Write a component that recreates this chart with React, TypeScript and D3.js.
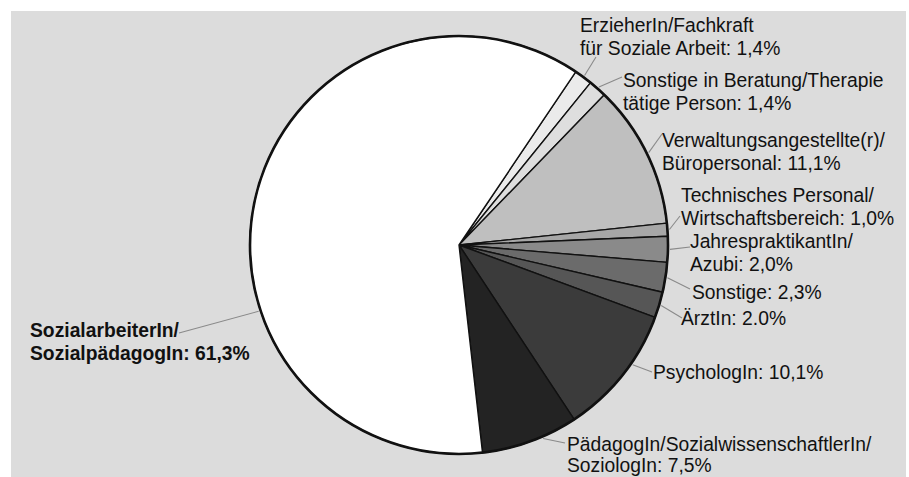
import * as d3 from 'd3'

// Anteile der Berufsgruppen (%), im Uhrzeigersinn ab ca. 34°
const categories = [
  'ErzieherIn/Fachkraft',
  'Sonstige Beratung/Therapie',
  'Verwaltung',
  'Technisches Personal',
  'JahrespraktikantIn',
  'Sonstige',
  'ÄrztIn',
  'PsychologIn',
  'PädagogIn',
  'SozialarbeiterIn',
]
const values = [1.4, 1.4, 11.1, 1.0, 2.0, 2.3, 2.0, 10.1, 7.5, 61.3]
const labelLines = [
  ['ErzieherIn/Fachkraft', 'für Soziale Arbeit: 1,4%'],
  ['Sonstige in Beratung/Therapie', 'tätige Person: 1,4%'],
  ['Verwaltungsangestellte(r)/', 'Büropersonal: 11,1%'],
  ['Technisches Personal/', 'Wirtschaftsbereich: 1,0%'],
  ['JahrespraktikantIn/', 'Azubi: 2,0%'],
  ['Sonstige: 2,3%'],
  ['ÄrztIn: 2.0%'],
  ['PsychologIn: 10,1%'],
  ['PädagogIn/SozialwissenschaftlerIn/', 'SoziologIn: 7,5%'],
  ['SozialarbeiterIn/', 'SozialpädagogIn: 61,3%'],
]
const colors = ['#ebebeb', '#dedede', '#bfbfbf', '#a7a7a7', '#8a8a8a', '#6b6b6b', '#565656', '#3b3b3b', '#232323', '#ffffff']

// label placement: text x, first baseline, leader end point (angle = where the leader leaves the rim)
const labelLayout = [
  { x: 580, y: 32, lx: 596, ly: 57 },
  { x: 623, y: 87, lx: 622, ly: 77 },
  { x: 662, y: 147, lx: 662, ly: 134 },
  { x: 681, y: 202, lx: 680, ly: 216 },
  { x: 690, y: 248, lx: 690, ly: 247 },
  { x: 692, y: 299, lx: 690, ly: 289 },
  { x: 681, y: 325, lx: 682, ly: 318 },
  { x: 653, y: 379, lx: 652, ly: 372, angle: 124.6 },
  { x: 567, y: 451, lx: 565, ly: 443, lh: 21, angle: 156.5 },
  { x: 30, y: 337, lx: 179, ly: 333, bold: true, angle: 251.7 },
]

const W = 909
const H = 477
const cx = 459
const cy = 245
const r = 209
const start = (34 * Math.PI) / 180

export default function App() {
  const pie = d3
    .pie<number>()
    .sort(null)
    .value((d) => d)
    .startAngle(start)
    .endAngle(start + 2 * Math.PI)
  const arcs = pie(values)
  const arc = d3.arc<d3.PieArcDatum<number>>().innerRadius(0).outerRadius(r)
  const edge = r + 2

  return (
    <svg width={W} height={H} style={{ position: 'absolute', left: 0, top: 0 }}>
      <rect x={11} y={11} width={895} height={H - 11} fill="#dcdcdc" />
      <g transform={`translate(${cx},${cy})`}>
        {arcs.map((a, i) => (
          <path key={categories[i]} d={arc(a) ?? ''} fill={colors[i]} stroke="#111" strokeWidth={1.4} strokeLinejoin="round" />
        ))}
        <circle r={r} fill="none" stroke="#111" strokeWidth={2.6} />
      </g>
      <g stroke="#8a8a8a" strokeWidth={1.1}>
        {arcs.map((a, i) => {
          const lay = labelLayout[i]
          const ang = lay.angle != null ? (lay.angle * Math.PI) / 180 : (a.startAngle + a.endAngle) / 2
          const sx = cx + edge * Math.sin(ang)
          const sy = cy - edge * Math.cos(ang)
          return <line key={i} x1={sx} y1={sy} x2={lay.lx} y2={lay.ly} />
        })}
      </g>
      <g fontFamily="'Liberation Sans', Arial, sans-serif" fontSize={19.3} fill="#111">
        {labelLines.map((lines, i) => {
          const lay = labelLayout[i]
          return (
            <text key={i} x={lay.x} y={lay.y} fontWeight={lay.bold ? 'bold' : 'normal'}>
              {lines.map((t, j) => (
                <tspan key={j} x={lay.x} dy={j === 0 ? 0 : lay.lh ?? 23}>
                  {t}
                </tspan>
              ))}
            </text>
          )
        })}
      </g>
    </svg>
  )
}
